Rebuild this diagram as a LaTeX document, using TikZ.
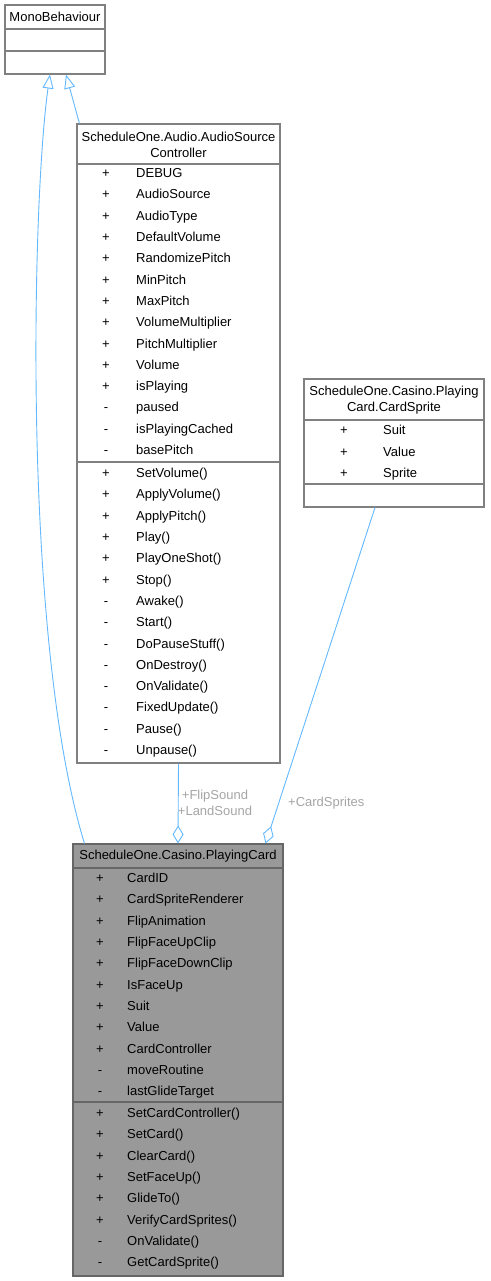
\documentclass[tikz,border=0pt]{standalone}
\usepackage{fontspec}
\setmainfont{Liberation Sans}
\usepackage{xcolor}
\usetikzlibrary{arrows.meta}
\definecolor{edgeblue}{RGB}{99,184,255}
\definecolor{boxgray}{RGB}{128,128,128}
\definecolor{labelgray}{RGB}{165,165,165}
\definecolor{cardfill}{RGB}{153,153,153}
\newcommand\umlfont{\fontsize{13}{16}\selectfont}
\tikzset{
  classbox/.style={ % outer frame of a class
    draw=boxgray, line width=1.1pt, fill=white,
    rectangle, inner sep=0pt
  },
  classtitle/.style={align=center, inner sep=0pt, font=\umlfont},
  vis/.style={inner sep=0pt, font=\umlfont, text height=9.5pt, text depth=0.3pt},
  member/.style={anchor=west, inner sep=0pt, font=\umlfont,
    text height=9.5pt, text depth=0.3pt},
  sep/.style={draw=boxgray, line width=1.1pt},
  inherit/.style={ % generalisation arrow
    draw=edgeblue, line width=0.9pt,
    -{Triangle[open,fill=white,length=14pt,width=11pt]}
  },
  aggreg/.style={ % aggregation with open diamond
    draw=edgeblue, line width=0.9pt,
    {Diamond[open,fill=white,length=18pt,width=11pt]}-
  },
  rolelabel/.style={text=labelgray, font=\umlfont, inner sep=0pt}
}

\begin{document}
\begin{tikzpicture}[x=1pt, y=-1pt]
  \useasboundingbox (0,0) rectangle (490,1281);

  % MonoBehaviour
  \node[classbox, minimum width=100pt, minimum height=69pt] (mono) at (55,39.5) {};
  \node[classtitle] (monoTitle) at (55,17) {MonoBehaviour};
  \draw[sep] (5,29) -- (105,29);
  \draw[sep] (5,51) -- (105,51);

  % AudioSourceController
  \node[classbox, minimum width=203pt, minimum height=639pt] (audio) at (178.5,443.5) {};
  \node[classtitle] (audioTitle) at (178.5,145) {ScheduleOne.Audio.AudioSource\\Controller};
  \draw[sep] (77,164) -- (280,164);
  \draw[sep] (77,462) -- (280,462);
  \foreach \v/\n [count=\i from 0] in {+/DEBUG, +/AudioSource, +/AudioType,
      +/DefaultVolume, +/RandomizePitch, +/MinPitch, +/MaxPitch,
      +/VolumeMultiplier, +/PitchMultiplier, +/Volume, +/isPlaying,
      -/paused, -/isPlayingCached, -/basePitch} {
    \node[vis] (audioV\i) at (106,173+21.3*\i) {\v};
    \node[member] (audioA\i) at (136,173+21.3*\i) {\n};
  }
  \foreach \v/\n [count=\i from 0] in {+/SetVolume(), +/ApplyVolume(),
      +/ApplyPitch(), +/Play(), +/PlayOneShot(), +/Stop(), -/Awake(),
      -/Start(), -/DoPauseStuff(), -/OnDestroy(), -/OnValidate(),
      -/FixedUpdate(), -/Pause(), -/Unpause()} {
    \node[vis] (audioW\i) at (106,473+21.3*\i) {\v};
    \node[member] (audioM\i) at (136,473+21.3*\i) {\n};
  }

  % PlayingCard.CardSprite
  \node[classbox, minimum width=180pt, minimum height=128pt] (sprite) at (394,443) {};
  \node[classtitle] (spriteTitle) at (394,400.5) {ScheduleOne.Casino.Playing\\Card.CardSprite};
  \draw[sep] (304,420) -- (484,420);
  \draw[sep] (304,484) -- (484,484);
  \foreach \n [count=\i from 0] in {Suit, Value, Sprite} {
    \node[vis] (spriteV\i) at (344,430+21.4*\i) {+};
    \node[member] (spriteA\i) at (383,430+21.4*\i) {\n};
  }

  % PlayingCard
  \node[classbox, draw=black!60, fill=cardfill, minimum width=210pt, minimum height=432pt] (card) at (178,1060) {};
  \node[classtitle] (cardTitle) at (178,856) {ScheduleOne.Casino.PlayingCard};
  \draw[sep, draw=black!60] (73,868) -- (283,868);
  \draw[sep, draw=black!60] (73,1102) -- (283,1102);
  \foreach \v/\n [count=\i from 0] in {+/CardID, +/CardSpriteRenderer,
      +/FlipAnimation, +/FlipFaceUpClip, +/FlipFaceDownClip, +/IsFaceUp,
      +/Suit, +/Value, +/CardController, -/moveRoutine, -/lastGlideTarget} {
    \node[vis] (cardV\i) at (100,878+21.3*\i) {\v};
    \node[member] (cardA\i) at (127,878+21.3*\i) {\n};
  }
  \foreach \v/\n [count=\i from 0] in {+/SetCardController(), +/SetCard(),
      +/ClearCard(), +/SetFaceUp(), +/GlideTo(), +/VerifyCardSprites(),
      -/OnValidate(), -/GetCardSprite()} {
    \node[vis] (cardW\i) at (100,1113+21.3*\i) {\v};
    \node[member] (cardM\i) at (127,1113+21.3*\i) {\n};
  }

  % connectors
  \draw[inherit] ([xshift=3pt]audio.north west) -- ([xshift=11pt]mono.south);
  \draw[inherit] ([xshift=12pt]card.north west)
    .. controls (22,640) and (32,200) .. ([xshift=-5pt]mono.south);
  \draw[aggreg] (card.north) -- (audio.south);
  \draw[aggreg] ([xshift=-18pt]card.north east) -- ([xshift=-19pt]sprite.south);
  \node[rolelabel, align=center] (soundLbl) at (215,803) {+FlipSound\\+LandSound};
  \node[rolelabel, anchor=west] (spriteLbl) at (288,803) {+CardSprites};
\end{tikzpicture}
\end{document}
